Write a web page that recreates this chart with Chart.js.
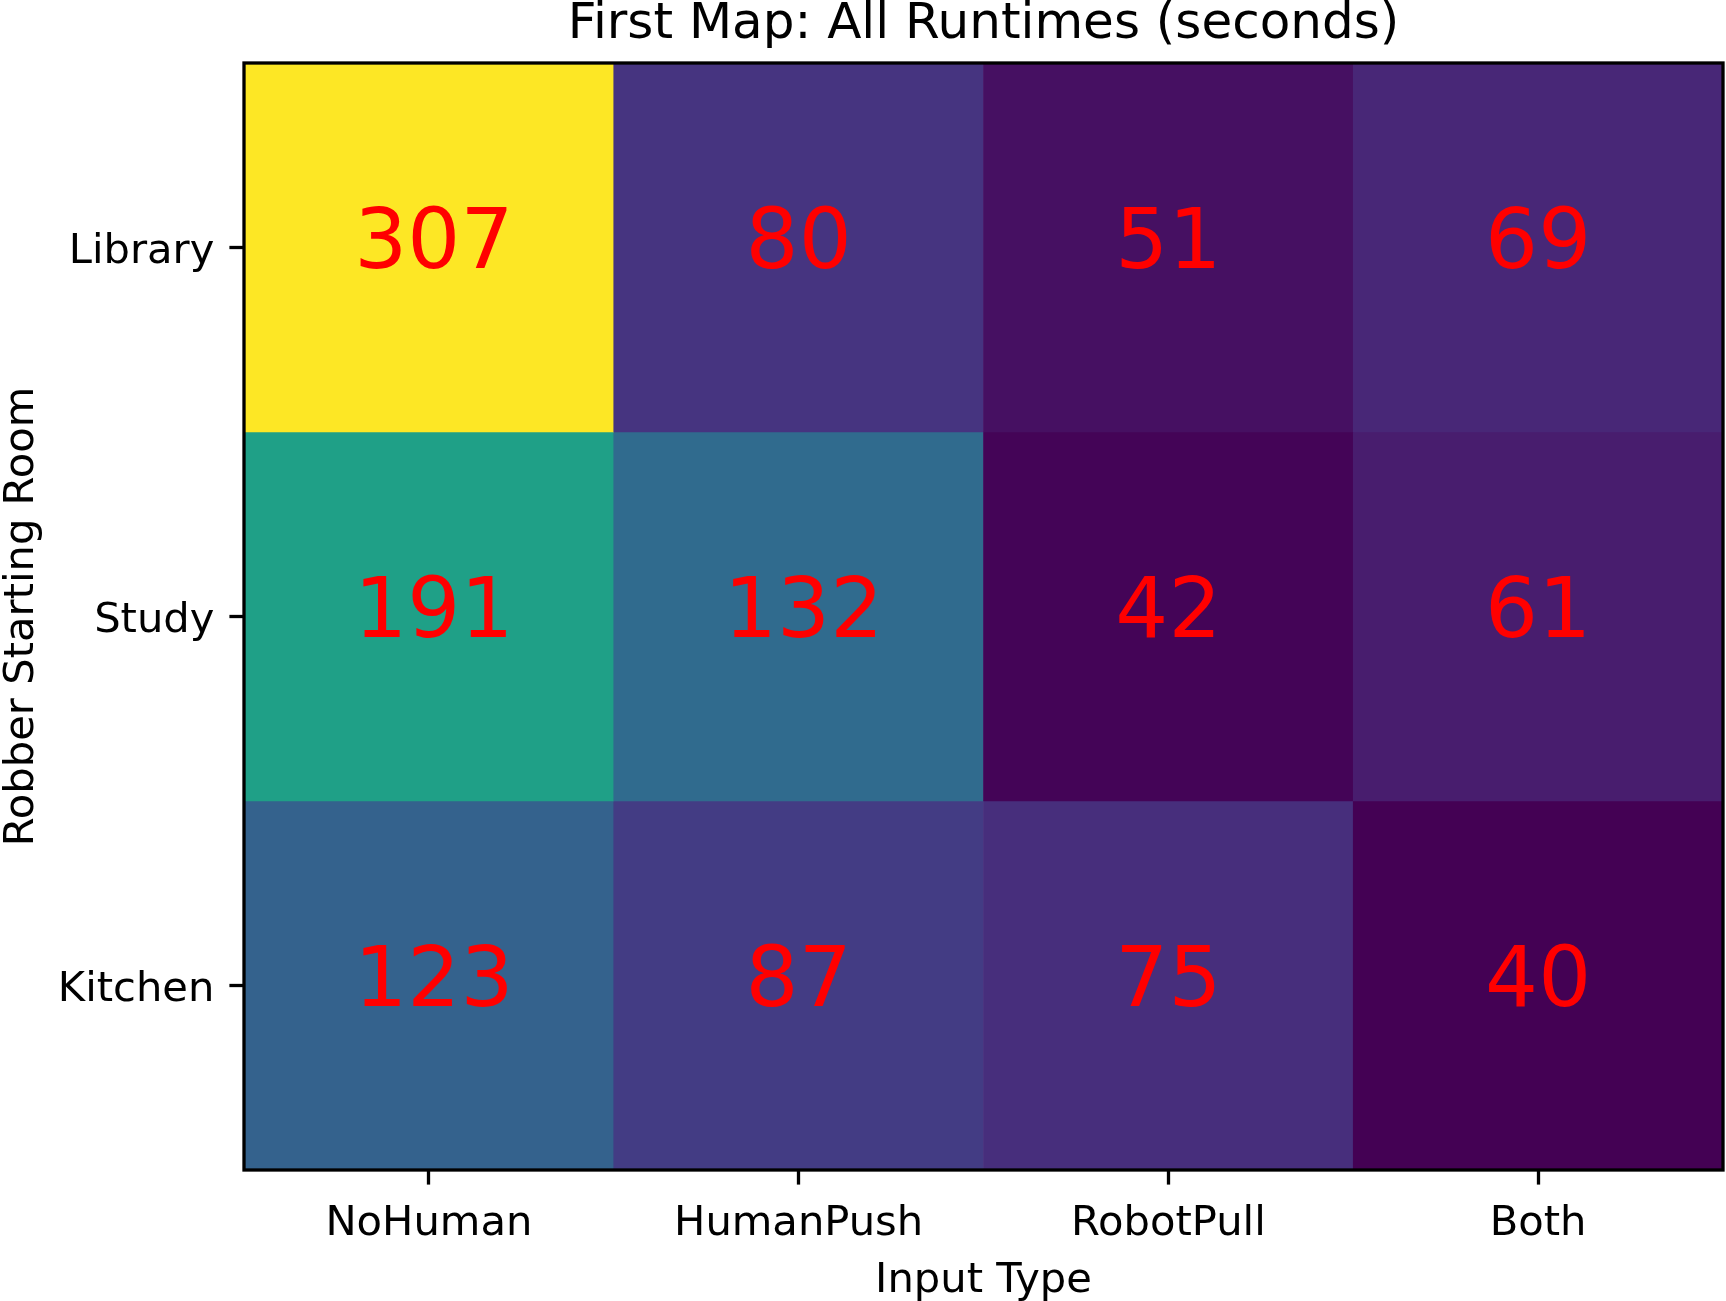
<!DOCTYPE html>
<html><head><meta charset="utf-8">
<script src="https://cdn.jsdelivr.net/npm/chart.js@4/dist/chart.umd.min.js"></script>
<style>html,body{margin:0;padding:0;background:#fff;} canvas{display:block;}</style>
</head><body>
<canvas id="c" width="1726" height="1301"></canvas>
<script>
// ---- data ----
const chartTitle = 'First Map: All Runtimes (seconds)';
const xAxisTitle = 'Input Type';
const yAxisTitle = 'Robber Starting Room';
const inputTypes = ['NoHuman', 'HumanPush', 'RobotPull', 'Both'];
const rooms = ['Library', 'Study', 'Kitchen'];
const libraryRuntimes = [307, 80, 51, 69];
const studyRuntimes = [191, 132, 42, 61];
const kitchenRuntimes = [123, 87, 75, 40];
const runtimeRows = [libraryRuntimes, studyRuntimes, kitchenRuntimes];

// ---- viridis colormap ----
const viridisStops = ['#440154','#471365','#482475','#463480','#414487','#3b528b','#355f8d','#2f6c8e','#2a788e','#25848e','#21918c','#1e9c89','#22a884','#2fb47c','#44bf70','#5ec962','#7ad151','#9bd93c','#bddf26','#dfe318','#fde725'];
function hexToRgb(h){return [parseInt(h.substr(1,2),16),parseInt(h.substr(3,2),16),parseInt(h.substr(5,2),16)];}
function viridis(t){
  t = Math.max(0, Math.min(1, t));
  const p = t * (viridisStops.length - 1);
  const i = Math.min(Math.floor(p), viridisStops.length - 2);
  const f = p - i;
  const a = hexToRgb(viridisStops[i]), b = hexToRgb(viridisStops[i+1]);
  const c = a.map((v,k)=>Math.round(v + (b[k]-v)*f));
  return 'rgb(' + c.join(',') + ')';
}
const allVals = runtimeRows.flat();
const vmin = Math.min(...allVals), vmax = Math.max(...allVals);

const FONT = "'DejaVu Sans', 'Liberation Sans', sans-serif";
Chart.defaults.font.family = FONT;
Chart.defaults.color = '#000';

const datasets = rooms.map((room, r) => ({
  label: room,
  data: inputTypes.map(() => 1),
  runtimes: runtimeRows[r],
  backgroundColor: runtimeRows[r].map(v => viridis((v - vmin) / (vmax - vmin))),
  borderWidth: 0,
  barPercentage: 1,
  categoryPercentage: 1,
  stack: 'rows'
}));

const decorPlugin = {
  id: 'decor',
  afterDatasetsDraw(chart) {
    const ctx = chart.ctx;
    ctx.save();
    ctx.fillStyle = '#ff0000';
    ctx.font = '83.33px ' + FONT;
    ctx.textAlign = 'center';
    ctx.textBaseline = 'alphabetic';
    chart.data.datasets.forEach((ds, di) => {
      const meta = chart.getDatasetMeta(di);
      meta.data.forEach((el, j) => {
        const cy = (el.y + el.base) / 2;
        const txt = String(ds.runtimes[j]);
        ctx.fillText(txt, el.x + (txt.length > 2 ? 5 : 0), cy + 20);
      });
    });
    ctx.restore();
  },
  afterDraw(chart) {
    const ctx = chart.ctx;
    const a = chart.chartArea;
    ctx.save();
    ctx.strokeStyle = '#000';
    ctx.lineWidth = 3.3;
    ctx.strokeRect(a.left, a.top, a.right - a.left, a.bottom - a.top);
    ctx.fillStyle = '#000';
    ctx.textAlign = 'center';
    ctx.textBaseline = 'alphabetic';
    const cx = (a.left + a.right) / 2;
    ctx.font = '50px ' + FONT;
    ctx.fillText(chartTitle, cx, 38);
    ctx.font = '41.67px ' + FONT;
    ctx.fillText(xAxisTitle, cx, 1292);
    ctx.translate(33, (a.top + a.bottom) / 2);
    ctx.rotate(-Math.PI / 2);
    ctx.fillText(yAxisTitle, 0, 0);
    ctx.restore();
  }
};

new Chart(document.getElementById('c'), {
  type: 'bar',
  data: { labels: inputTypes, datasets },
  options: {
    responsive: false,
    animation: false,
    layout: { padding: { top: 63, right: 3, left: 0, bottom: 0 } },
    plugins: { legend: { display: false }, tooltip: { enabled: false }, title: { display: false } },
    scales: {
      x: {
        type: 'category',
        stacked: true,
        offset: true,
        border: { display: false },
        grid: { offset: false, drawOnChartArea: false, drawTicks: true, tickLength: 14.6, tickWidth: 3.3, tickColor: '#000' },
        ticks: { font: { size: 41.67 }, color: '#000', padding: 15, maxRotation: 0, autoSkip: false },
        afterFit(s) { s.height = 131; }
      },
      y: {
        type: 'linear',
        stacked: true,
        reverse: true,
        min: 0,
        max: rooms.length,
        border: { display: false },
        grid: { drawOnChartArea: false, drawTicks: true, tickLength: 14.6, tickWidth: 3.3, tickColor: '#000' },
        afterBuildTicks(s) { s.ticks = rooms.map((_, i) => ({ value: i + 0.5 })); },
        ticks: { font: { size: 41.67 }, color: '#000', padding: 15, labelOffset: 5, autoSkip: false, callback: (v) => rooms[Math.floor(v)] },
        afterFit(s) { s.width = 244; }
      }
    }
  },
  plugins: [decorPlugin]
});
</script>
</body></html>
